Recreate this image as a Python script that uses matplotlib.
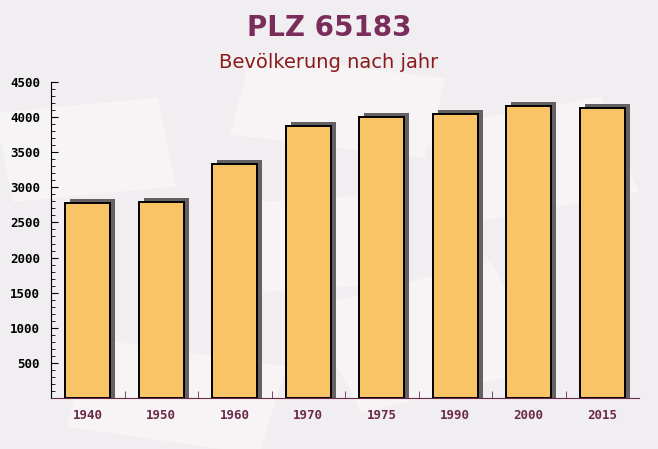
import matplotlib.pyplot as plt
import matplotlib.patches as mpatches
import numpy as np

years = ['1940', '1950', '1960', '1970', '1975', '1990', '2000', '2015']
population = [2775, 2790, 3330, 3870, 3995, 4040, 4160, 4135]
y_ticks = [500, 1000, 1500, 2000, 2500, 3000, 3500, 4000, 4500]

fig = plt.figure(figsize=(6.58, 4.49), dpi=100)
fig.patch.set_facecolor('#f1eef1')

# faint background "envelopes"
for (x, y, w, h, ang) in [(0.02, 0.55, 0.25, 0.2, 8), (0.35, 0.7, 0.3, 0.18, -10),
                          (0.7, 0.5, 0.28, 0.22, 15), (0.1, 0.05, 0.3, 0.2, -12),
                          (0.55, 0.08, 0.3, 0.25, 20), (0.4, 0.35, 0.2, 0.2, 5)]:
    fig.patches.append(mpatches.Rectangle((x, y), w, h, angle=ang, transform=fig.transFigure,
                                          facecolor='#f6f4f5', edgecolor='none', zorder=-5))

ax = fig.add_axes([51 / 658, 51 / 449, 588 / 658, 316 / 449])
ax.set_facecolor('none')
ax.set_zorder(2)

pos = np.arange(len(years))
bw = 0.61
ax.bar(pos + 0.068, np.array(population) + 57, width=bw, color='#666063', zorder=1)
ax.bar(pos, population, width=bw, color='#f8c466', edgecolor='black', linewidth=1.4, zorder=2)

ax.set_xlim(-0.5, len(years) - 0.5)
ax.set_ylim(0, 4500)
ax.set_yticks(y_ticks)
ax.set_yticks(np.arange(0, 4501, 100), minor=True)
ax.set_xticks(pos)
ax.set_xticklabels(years)
ax.set_xticks(np.arange(0.5, len(years) - 0.5, 1), minor=True)

ax.tick_params(axis='y', which='major', direction='in', length=5, labelsize=9, pad=8)
ax.tick_params(axis='y', which='minor', direction='in', length=3)
ax.tick_params(axis='x', which='major', length=0, labelsize=9, pad=8, labelcolor='#6b2a4a')
ax.tick_params(axis='x', which='minor', direction='in', length=5, color='#6b2a4a')

for lab in ax.get_yticklabels() + ax.get_xticklabels():
    lab.set_family('DejaVu Sans Mono')
    lab.set_fontweight('bold')

for s in ['top', 'right']:
    ax.spines[s].set_visible(False)
ax.spines['left'].set_color('black')
ax.spines['bottom'].set_color('#6b2a4a')

fig.text(0.5, 1 - 28 / 449, 'PLZ 65183', ha='center', va='center', fontsize=20,
         fontweight='bold', color='#7a2d5a')
fig.text(0.5, 1 - 62 / 449, 'Bevölkerung nach jahr', ha='center', va='center',
         fontsize=14, color='#8b1a1a')

fig.savefig('out.png', dpi=100, facecolor=fig.get_facecolor())
